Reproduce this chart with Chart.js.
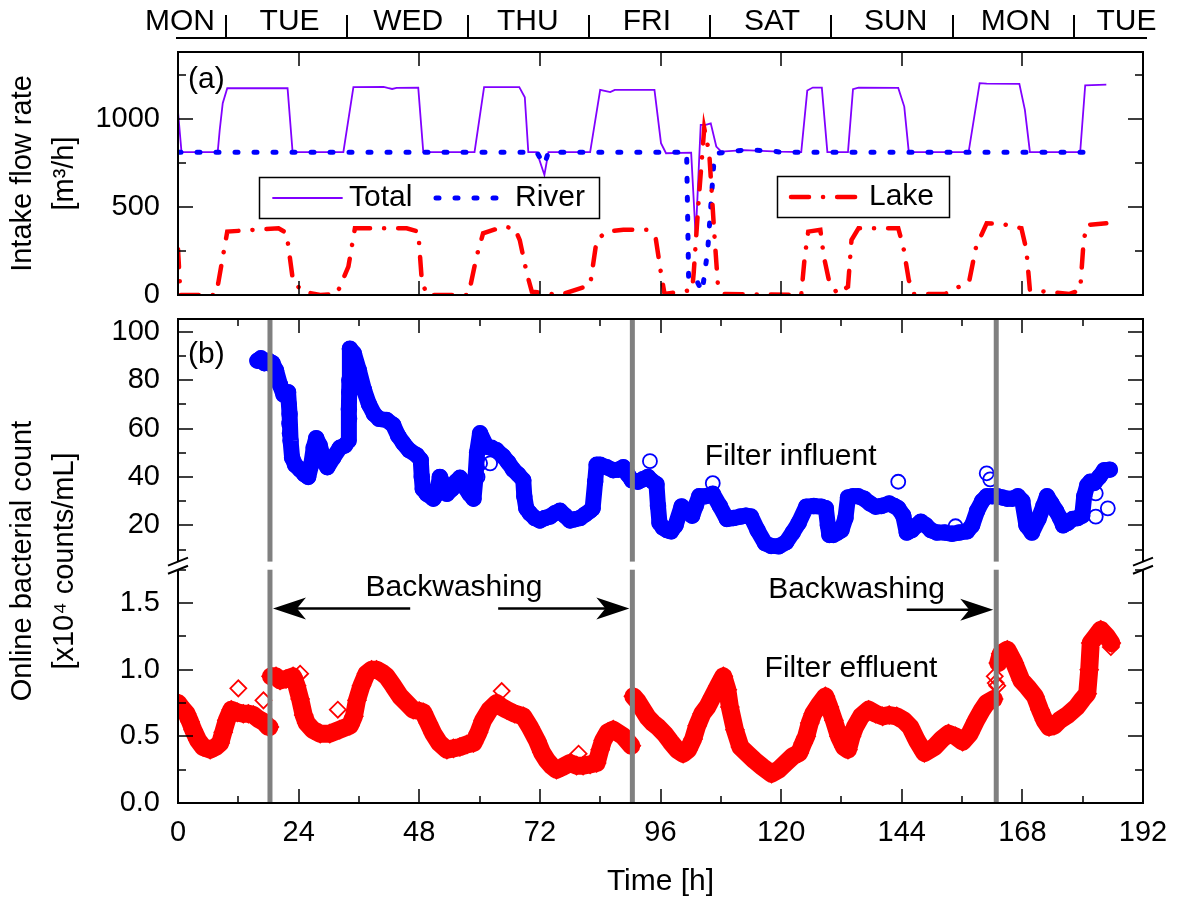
<!DOCTYPE html>
<html><head><meta charset="utf-8">
<script src="https://cdn.jsdelivr.net/npm/chart.js@4.4.1/dist/chart.umd.min.js"></script>
<style>
html,body{margin:0;padding:0;background:#fff;}
#wrap{position:relative;width:1181px;height:906px;background:#fff;}
canvas{position:absolute;left:0;top:0;}
</style></head><body>
<div id="wrap"><canvas id="cA" width="1181" height="906"></canvas><canvas id="cB" width="1181" height="906"></canvas></div>
<script>
// ---------- data ----------
const dayNames = ['MON','TUE','WED','THU','FRI','SAT','SUN','MON','TUE'];
const dayLabelTimes = [0.4,22.2,45.8,69.6,93.3,118.2,142.8,166.7,188.7];
const daySeparatorTimes = [9.6,33.6,57.7,81.7,105.9,130.0,154.2,178.3];

const hourTicks = [0,24,48,72,96,120,144,168,192];
const hourMinorTicks = [12,36,60,84,108,132,156,180];
const flowTicks = [0,500,1000];
const flowMinorTicks = [250,750,1250];
const influentTicks = [20,40,60,80,100];
const influentMinorTicks = [10,30,50,70,90];
const effluentTicks = [0,0.5,1.0,1.5];
const effluentMinorTicks = [0.25,0.75,1.25,1.75];

const totalTime = [0,0.7,7.9,8.3,8.9,9.8,21.8,22.8,32.9,34.9,40.9,41.7,42.6,43.5,47.8,48.8,59.0,60.9,67.9,69.0,69.7,71.4,72.9,73.7,82.0,84.0,84.9,86.0,86.9,94.8,96.1,97.1,102.1,103.0,104.0,105.0,106.0,107.1,108.1,112.6,119.5,124.0,125.2,126.3,128.1,129.2,133.3,134.3,135.4,143.3,144.5,145.4,157.3,159.5,160.9,167.4,168.5,169.5,179.5,180.5,184.7];
const totalFlow = [1040,811,811,937,1089,1174,1174,811,811,1180,1182,1176,1170,1176,1178,811,811,1181,1181,1123,811,811,682,811,811,1165,1159,1152,1165,1165,862,805,808,331,966,966,975,843,814,823,814,811,1161,1178,1178,811,811,1169,1178,1176,1070,811,811,1203,1200,1199,1051,811,811,1191,1195];

const riverTime = [0,71.4,72.2,72.9,73.7,101.2,101.6,102.3,103.3,104.3,105.4,106.1,106.7,107.3,112.6,117.4,120.0,182.6];
const riverFlow = [811,811,770,740,811,811,85,100,76,19,256,540,786,805,823,820,811,811];

const lakeTime = [0,0.5,7.4,8.0,9.8,20.0,21.6,22.9,24.9,28.3,31.6,33.9,35.2,45.5,47.8,48.5,49.5,57.8,59.4,60.7,64.7,67.0,68.0,69.4,70.4,76.0,82.0,83.3,85.3,88.6,93.3,95.0,96.1,96.8,102.3,102.6,103.6,104.7,105.7,106.7,107.4,108.5,124.0,124.7,125.4,127.8,128.5,129.5,131.2,133.3,134.0,135.4,143.3,144.3,145.4,146.4,152.6,157.4,158.8,160.9,164.0,167.8,168.8,169.5,177.4,179.5,180.2,180.9,184.7];
const lakeFlow = [260,0,0,66,360,379,352,76,19,0,6,161,379,379,360,85,0,0,218,350,388,379,312,123,19,0,57,312,360,370,370,331,123,6,28,123,540,947,805,352,66,6,0,218,360,370,218,85,6,47,312,379,379,275,85,6,6,76,275,407,403,379,256,28,6,28,312,398,407];

const influentTime = [15.8,16.5,17.2,18.0,18.8,19.5,20.3,21.0,21.9,22.2,22.4,22.7,23.3,24.3,25.2,25.9,26.5,27.0,27.5,28.2,29.0,29.7,30.9,32.2,33.2,33.9,34.0,34.1,34.2,35.0,36.0,37.0,38.0,39.0,40.0,41.5,42.8,43.8,44.8,46.0,47.5,48.3,48.5,48.7,49.5,50.8,51.5,52.1,52.8,53.5,54.5,55.3,56.1,57.0,58.0,58.8,59.2,59.5,60.1,61.4,62.4,63.4,64.7,65.7,66.7,67.7,68.7,68.9,69.3,70.0,71.0,72.0,73.0,74.0,75.0,76.0,77.0,78.0,79.0,80.0,81.0,82.0,82.5,83.0,83.3,84.0,85.3,86.6,87.6,88.6,89.5,90.3,91.5,92.5,93.5,94.5,95.2,95.5,95.8,96.5,97.3,98.1,99.0,100.2,101.2,102.3,103.0,103.7,105.0,106.4,107.8,109.2,110.5,111.9,113.0,114.0,115.3,116.8,118.0,119.5,121.0,122.3,123.5,125.0,126.5,128.0,128.9,129.3,129.6,130.4,131.2,132.0,132.8,133.3,134.3,135.3,136.5,137.7,138.8,140.0,141.5,142.5,143.3,144.3,145.0,146.0,147.0,147.8,148.8,149.8,151.0,152.6,154.0,155.4,157.0,158.0,159.0,160.0,160.9,162.0,163.0,164.0,165.0,166.0,167.1,168.0,168.8,169.9,171.2,172.2,172.9,173.8,174.7,175.5,176.1,177.0,178.0,179.0,179.9,180.3,180.9,181.5,182.3,183.3,184.3,185.4];
const influentCount = [88,89,87,88,87,84,78,74,75,66,55,48,45,43,41,40,45,52,56,53,47,44,48,52,53,55,68,80,93,91,84,76,70,66,64,63.5,61.5,57,54,51,49,47,40,35,33,31,33,40,37,33,35,38,39.6,36,33,31,40,50,58,52.5,52,51,48.5,46,43,41,38.6,32,27,25,23,22,23,23.6,25,26,24,22,22.5,23,24.5,26,27,38,45,45,44,42.8,43,44,41,38.6,38,39,40,38,37,28,21,19,18,17.5,20,27.8,26,24,28,32,32,33,28,22.6,23,23.6,24,23.6,18,12.6,11.5,11.3,13,17,21,27.7,28,27.7,27,20,16,16,17,18,23,31.5,32,32,31,29,27.7,28,29,28,27,24,17,18,20,21.5,20,18,17,17,16.5,17,17.5,20,26,30,32,32,32,31.5,31,31,32,30,20,17,22.6,28,32,29,26,23,20,21,22.6,23,24,32,36.5,38,37.5,40,42.8,43];
const influentOutTime = [22.1,22.1,22.2,34.0,34.1,59.6,60.1,62.1,93.9,106.4,143.3,154.7,160.9,161.6,182.6,182.6,185.0];
const influentOutCount = [70,62,58,75,64,40,45.6,45.6,46.5,37.4,38,19.6,41.5,39,33.2,23.6,27];

const effluentTime = [0.0,0.8,1.7,2.4,3.0,4.0,5.0,6.4,7.5,8.4,9.0,9.7,10.6,11.8,13.0,14.0,15.0,16.0,17.0,18.0,18.2,18.5,19.5,20.3,21.5,22.9,23.6,24.3,25.0,25.6,26.8,28.3,30.2,32.2,34.2,35.0,35.6,36.5,37.5,38.5,39.5,40.5,41.5,42.8,44.2,45.5,46.8,48.0,48.8,49.8,50.8,52.0,53.5,54.8,56.1,57.5,58.8,59.8,60.7,62.0,63.4,64.4,65.4,67.0,68.7,70.0,71.4,72.4,73.4,74.3,75.3,76.5,78.0,79.3,80.6,82.0,83.3,84.0,84.6,85.5,86.6,88.6,89.5,90.2,90.6,91.5,92.5,93.5,94.5,95.5,96.8,98.0,99.3,100.5,101.5,102.5,103.3,104.3,105.3,106.4,107.5,108.5,109.3,109.8,110.8,111.9,113.3,114.7,116.3,118.1,119.5,120.9,122.3,123.6,124.4,125.0,125.7,126.4,127.6,128.8,129.6,130.5,131.5,132.5,133.3,134.0,134.7,135.9,137.4,138.8,140.2,141.5,143.0,144.4,145.7,147.0,148.5,150.5,152.0,153.3,154.7,156.1,157.5,158.8,160.0,160.9,162.3,163.2,163.7,165.0,166.4,167.8,169.0,170.5,171.5,172.4,173.3,174.3,175.4,177.0,178.8,180.0,180.9,181.3,181.6,182.6,183.6,184.8,185.7];
const effluentCount = [0.75,0.71,0.67,0.61,0.55,0.47,0.42,0.40,0.42,0.45,0.53,0.62,0.70,0.68,0.67,0.67,0.66,0.63,0.61,0.57,0.57,0.95,0.95,0.92,0.93,0.95,0.88,0.78,0.66,0.60,0.55,0.52,0.52,0.55,0.58,0.65,0.77,0.88,0.97,1.0,1.0,0.98,0.95,0.88,0.80,0.75,0.70,0.69,0.68,0.60,0.52,0.45,0.40,0.41,0.42,0.44,0.45,0.53,0.62,0.70,0.75,0.72,0.70,0.67,0.65,0.57,0.47,0.38,0.32,0.28,0.25,0.27,0.30,0.28,0.28,0.29,0.30,0.40,0.47,0.53,0.55,0.50,0.46,0.43,0.80,0.76,0.70,0.64,0.60,0.57,0.52,0.46,0.40,0.37,0.40,0.48,0.58,0.67,0.72,0.80,0.88,0.95,0.85,0.72,0.55,0.42,0.37,0.32,0.27,0.22,0.25,0.30,0.35,0.375,0.45,0.50,0.60,0.67,0.74,0.80,0.72,0.62,0.50,0.42,0.40,0.50,0.57,0.65,0.70,0.67,0.65,0.66,0.65,0.62,0.57,0.47,0.375,0.42,0.48,0.52,0.50,0.46,0.52,0.62,0.70,0.75,0.78,1.05,1.12,1.15,1.05,0.92,0.87,0.80,0.70,0.62,0.57,0.58,0.62,0.66,0.72,0.78,0.82,1.00,1.20,1.25,1.30,1.25,1.20];
const effluentOutTime = [12.0,17.0,24.3,31.8,64.4,79.7,162.5,162.7,163.0,185.6];
const effluentOutCount = [0.86,0.77,0.97,0.70,0.84,0.37,0.95,0.90,0.88,1.17];

const backwashTimes = [18.3,90.4,162.8];

// ---------- helpers ----------
const FONT = "'Liberation Sans', Arial, Helvetica, sans-serif";
Chart.defaults.font.family = FONT;
Chart.defaults.color = '#000';

const pts = (ts, vs) => ts.map((t, i) => ({x: t, y: vs[i]}));
function withBreaks(ts, vs, breaks) {
  const out = [];
  for (let i = 0; i < ts.length; i++) {
    if (i > 0) breaks.forEach(b => { if (ts[i-1] < b && ts[i] > b) out.push({x: b, y: null}); });
    out.push({x: ts[i], y: vs[i]});
  }
  return out;
}
function xTickMarks(ctx, sx, vals, top, bottom, len) {
  ctx.beginPath();
  vals.forEach(v => { const x = Math.round(sx.getPixelForValue(v));
    ctx.moveTo(x, top); ctx.lineTo(x, top + len);
    ctx.moveTo(x, bottom); ctx.lineTo(x, bottom - len); });
  ctx.stroke();
}
function yTickMarks(ctx, sy, vals, left, right, len) {
  ctx.beginPath();
  vals.forEach(v => { const y = Math.round(sy.getPixelForValue(v));
    ctx.moveTo(left, y); ctx.lineTo(left + len, y);
    ctx.moveTo(right, y); ctx.lineTo(right - len, y); });
  ctx.stroke();
}
function arrow(ctx, xTail, xTip, y) {
  const d = Math.sign(xTip - xTail);
  ctx.lineWidth = 2.5; ctx.setLineDash([]);
  ctx.beginPath(); ctx.moveTo(xTail, y); ctx.lineTo(xTip - d * 20, y); ctx.stroke();
  ctx.beginPath(); ctx.moveTo(xTip, y); ctx.lineTo(xTip - d * 33, y - 11);
  ctx.lineTo(xTip - d * 24, y); ctx.lineTo(xTip - d * 33, y + 11); ctx.closePath(); ctx.fill();
}
const baseOpts = {
  responsive: false, animation: false, devicePixelRatio: 1, events: [],
  plugins: {legend: {display: false}, tooltip: {enabled: false}}
};
const tickFont = {size: 29};
const titleFont = {size: 29, lineHeight: 1.45};
const noGrid = {display: false, drawTicks: false};

// ---------- chart (a) ----------
const panelA = {
  id: 'panelA',
  afterDraw(chart) {
    const {ctx, chartArea: a, scales: {x, y}} = chart;
    ctx.save();
    ctx.strokeStyle = '#000'; ctx.fillStyle = '#000';
    ctx.lineWidth = 2;
    ctx.strokeRect(a.left, a.top, a.right - a.left, a.bottom - a.top);
    ctx.lineWidth = 1.5;
    xTickMarks(ctx, x, hourTicks, a.top, a.bottom, 14);
    yTickMarks(ctx, y, flowTicks, a.left, a.right, 15);
    yTickMarks(ctx, y, flowMinorTicks, a.left, a.right, 8);
    // day bar
    const lineY = 38;
    ctx.lineWidth = 2;
    ctx.beginPath(); ctx.moveTo(a.left - 2, lineY); ctx.lineTo(a.right + 4, lineY);
    daySeparatorTimes.forEach(h => { const px = Math.round(x.getPixelForValue(h)); ctx.moveTo(px, lineY); ctx.lineTo(px, 15); });
    ctx.stroke();
    ctx.font = '30px ' + FONT; ctx.textAlign = 'center'; ctx.textBaseline = 'middle';
    dayNames.forEach((d, i) => ctx.fillText(d, x.getPixelForValue(dayLabelTimes[i]), 22));
    ctx.textAlign = 'left';
    ctx.fillText('(a)', x.getPixelForValue(2.0), y.getPixelForValue(1222));
    // legends
    ctx.lineWidth = 1.5; ctx.setLineDash([]);
    ctx.strokeRect(259.5, 177.5, 340, 41);
    ctx.strokeRect(777.5, 176.5, 172, 41);
    ctx.lineCap = 'round';
    ctx.strokeStyle = '#8000ff'; ctx.lineWidth = 1.8;
    ctx.beginPath(); ctx.moveTo(273, 198); ctx.lineTo(342, 198); ctx.stroke();
    ctx.strokeStyle = '#0000ff'; ctx.lineWidth = 5; ctx.setLineDash([3, 16]);
    ctx.beginPath(); ctx.moveTo(436, 198); ctx.lineTo(500, 198); ctx.stroke();
    ctx.strokeStyle = '#ff0000'; ctx.lineWidth = 4.5; ctx.setLineDash([18, 14, 0.1, 14]);
    ctx.beginPath(); ctx.moveTo(791, 197); ctx.lineTo(862, 197); ctx.stroke();
    ctx.setLineDash([]);
    ctx.fillStyle = '#000'; ctx.font = '30px ' + FONT; ctx.textAlign = 'left';
    ctx.fillText('Total', 349, 198);
    ctx.fillText('River', 515, 198);
    ctx.fillText('Lake', 869, 197);
    ctx.restore();
  }
};

new Chart(document.getElementById('cA'), {
  type: 'scatter',
  data: {datasets: [
    {label: 'Lake', data: pts(lakeTime, lakeFlow), showLine: true, borderColor: '#ff0000', borderWidth: 4.5,
     borderDash: [18, 14, 0.1, 14], borderCapStyle: 'round', pointRadius: 0, order: 0, tension: 0},
    {label: 'River', data: pts(riverTime, riverFlow), showLine: true, borderColor: '#0000ff', borderWidth: 5,
     borderDash: [3, 16], borderCapStyle: 'round', pointRadius: 0, order: 1, tension: 0},
    {label: 'Total', data: pts(totalTime, totalFlow), showLine: true, borderColor: '#8000ff', borderWidth: 1.8,
     pointRadius: 0, order: 2, tension: 0}
  ]},
  options: Object.assign({}, baseOpts, {
    layout: {padding: {left: 0, top: 52, right: 38, bottom: 611}},
    scales: {
      x: {type: 'linear', min: 0, max: 192, ticks: {display: false}, grid: noGrid, border: {display: false},
          afterFit: s => { s.height = 0; }},
      y: {type: 'linear', min: 0, max: 1380,
          afterBuildTicks: s => { s.ticks = flowTicks.map(v => ({value: v})); },
          afterFit: s => { s.width = 178; },
          grid: noGrid, border: {display: false},
          ticks: {font: tickFont, color: '#000', padding: 18, callback: v => String(v)},
          title: {display: true, text: ['Intake flow rate', '[m³/h]'], font: titleFont, color: '#000', padding: {top: 2, bottom: 0}}}
    }
  }),
  plugins: [panelA]
});

// ---------- chart (b) ----------
const influentBreak = 5, effluentBreak = 1.75;
const notes = {
  b: {t: 2.0, v: 90.4},
  influent: {t: 121.9, v: 48.3},
  effluent: {t: 133.9, v: 1.01},
  wash1: {t: 54.9, v: 1.616},
  wash2: {t: 135.0, v: 1.60},
  arrowsY: [1.46, 1.45]
};
const panelB = {
  id: 'panelB',
  afterDatasetsDraw(chart) {
    const {ctx, chartArea: a, scales: {x, yInf, yEff}} = chart;
    const gapTop = yInf.getPixelForValue(influentBreak), gapBot = yEff.getPixelForValue(effluentBreak);
    ctx.save(); ctx.fillStyle = '#808080';
    backwashTimes.forEach(t => { const px = x.getPixelForValue(t);
      ctx.fillRect(px - 2.5, a.top, 5, gapTop - a.top);
      ctx.fillRect(px - 2.5, gapBot, 5, a.bottom - gapBot); });
    ctx.restore();
  },
  afterDraw(chart) {
    const {ctx, chartArea: a, scales: {x, yInf, yEff}} = chart;
    const gapTop = yInf.getPixelForValue(influentBreak), gapBot = yEff.getPixelForValue(effluentBreak);
    ctx.save();
    ctx.strokeStyle = '#000'; ctx.fillStyle = '#000'; ctx.lineWidth = 2;
    ctx.beginPath();
    ctx.moveTo(a.left, gapTop); ctx.lineTo(a.left, a.top); ctx.lineTo(a.right, a.top); ctx.lineTo(a.right, gapTop);
    ctx.moveTo(a.left, gapBot); ctx.lineTo(a.left, a.bottom); ctx.lineTo(a.right, a.bottom); ctx.lineTo(a.right, gapBot);
    ctx.stroke();
    // break marks
    ctx.beginPath();
    [a.left, a.right].forEach(px => {
      [gapTop, gapBot].forEach(py => { ctx.moveTo(px - 10, py + 4); ctx.lineTo(px + 10, py - 4); });
    });
    ctx.stroke();
    ctx.lineWidth = 1.5;
    xTickMarks(ctx, x, hourTicks, a.top, a.bottom, 14);
    xTickMarks(ctx, x, hourMinorTicks, a.top, a.bottom, 7);
    yTickMarks(ctx, yInf, influentTicks, a.left, a.right, 15);
    yTickMarks(ctx, yInf, influentMinorTicks, a.left, a.right, 8);
    yTickMarks(ctx, yEff, effluentTicks, a.left, a.right, 15);
    yTickMarks(ctx, yEff, effluentMinorTicks, a.left, a.right, 8);
    // effluent axis tick labels
    ctx.font = '29px ' + FONT; ctx.textBaseline = 'middle'; ctx.textAlign = 'right';
    effluentTicks.forEach(v => ctx.fillText(v.toFixed(1), a.left - 18, yEff.getPixelForValue(v)));
    // text
    ctx.font = '30px ' + FONT;
    ctx.textAlign = 'left';
    ctx.fillText('(b)', x.getPixelForValue(notes.b.t), yInf.getPixelForValue(notes.b.v));
    ctx.textAlign = 'center';
    ctx.fillText('Filter influent', x.getPixelForValue(notes.influent.t), yInf.getPixelForValue(notes.influent.v));
    ctx.fillText('Filter effluent', x.getPixelForValue(notes.effluent.t), yEff.getPixelForValue(notes.effluent.v));
    ctx.fillText('Backwashing', x.getPixelForValue(notes.wash1.t), yEff.getPixelForValue(notes.wash1.v));
    ctx.fillText('Backwashing', x.getPixelForValue(notes.wash2.t), yEff.getPixelForValue(notes.wash2.v));
    // arrows
    const ay1 = yEff.getPixelForValue(notes.arrowsY[0]), ay2 = yEff.getPixelForValue(notes.arrowsY[1]);
    arrow(ctx, x.getPixelForValue(46.2), x.getPixelForValue(backwashTimes[0]) + 3, ay1);
    arrow(ctx, x.getPixelForValue(63.7), x.getPixelForValue(backwashTimes[1]) - 3, ay1);
    arrow(ctx, x.getPixelForValue(145.0), x.getPixelForValue(backwashTimes[2]) - 3, ay2);
    ctx.restore();
  }
};

const chartBH = 484; // 319..803
new Chart(document.getElementById('cB'), {
  type: 'scatter',
  data: {datasets: [
    {label: 'Filter influent', data: pts(influentTime, influentCount), yAxisID: 'yInf', showLine: true,
     borderColor: '#0000ff', borderWidth: 16, borderJoinStyle: 'round', borderCapStyle: 'round',
     pointStyle: 'circle', pointRadius: 7.5, pointBorderWidth: 1.5, pointBorderColor: '#0000ff', pointBackgroundColor: 'rgba(0,0,0,0)'},
    {label: 'Filter influent outliers', data: pts(influentOutTime, influentOutCount), yAxisID: 'yInf', showLine: false,
     pointStyle: 'circle', pointRadius: 7, pointBorderWidth: 1.8, pointBorderColor: '#0000ff', pointBackgroundColor: 'rgba(0,0,0,0)'},
    {label: 'Filter effluent', data: withBreaks(effluentTime, effluentCount, backwashTimes), yAxisID: 'yEff', showLine: true,
     borderColor: '#ff0000', borderWidth: 18, borderJoinStyle: 'round', borderCapStyle: 'round',
     pointStyle: 'rectRot', pointRadius: 9, pointBorderWidth: 1.5, pointBorderColor: '#ff0000', pointBackgroundColor: 'rgba(0,0,0,0)'},
    {label: 'Filter effluent outliers', data: pts(effluentOutTime, effluentOutCount), yAxisID: 'yEff', showLine: false,
     pointStyle: 'rectRot', pointRadius: 8, pointBorderWidth: 1.8, pointBorderColor: '#ff0000', pointBackgroundColor: 'rgba(0,0,0,0)'}
  ]},
  options: Object.assign({}, baseOpts, {
    layout: {padding: {left: 0, top: 319, right: 38, bottom: 0}},
    scales: {
      x: {type: 'linear', min: 0, max: 192,
          afterBuildTicks: s => { s.ticks = hourTicks.map(v => ({value: v})); },
          afterFit: s => { s.height = 103; },
          grid: noGrid, border: {display: false},
          ticks: {font: tickFont, color: '#000', padding: 13, maxRotation: 0, autoSkip: false, callback: v => String(v)},
          title: {display: true, text: 'Time [h]', font: {size: 30}, color: '#000', padding: {top: 0, bottom: 6}}},
      yInf: {type: 'linear', position: 'left', weight: 1, min: 105.25 - chartBH / 2.42, max: 105.25,
          afterBuildTicks: s => { s.ticks = influentTicks.map(v => ({value: v})); },
          afterFit: s => { s.width = 178; },
          grid: noGrid, border: {display: false},
          ticks: {font: tickFont, color: '#000', padding: 18, autoSkip: false, callback: v => String(v)},
          title: {display: true, text: ['Online bacterial count', '[x10⁴ counts/mL]'], font: titleFont, color: '#000', padding: {top: 2, bottom: 0}}},
      yEff: {type: 'linear', position: 'left', weight: 0, min: 0, max: chartBH / 133.3,
          afterFit: s => { s.width = 0; },
          grid: noGrid, border: {display: false},
          ticks: {display: false}}
    }
  }),
  plugins: [panelB]
});
</script>
</body></html>
